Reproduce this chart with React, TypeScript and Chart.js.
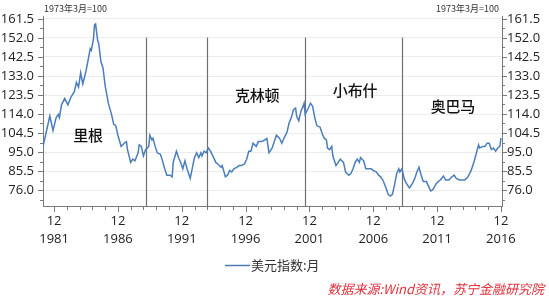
import React, { useEffect, useRef } from 'react';
import { Chart, registerables } from 'chart.js';

Chart.register(...registerables);

// ---- Data ----
const months: string[] = [
  '1981-01','1981-08','1981-11','1982-02','1982-04','1982-05','1982-07','1982-10',
  '1983-01','1983-04','1983-07','1983-09','1983-11','1984-01','1984-03','1984-06',
  '1984-10','1984-11','1985-01','1985-02','1985-03','1985-05','1985-06','1985-08',
  '1985-10','1985-12','1986-03','1986-06','1986-08','1986-10','1986-12','1987-03',
  '1987-06','1987-08','1987-09','1987-12','1988-02','1988-04','1988-07','1988-08',
  '1988-10','1988-12','1989-02','1989-05','1989-06','1989-08','1989-09','1989-11',
  '1990-01','1990-04','1990-05','1990-08','1990-10','1991-01','1991-03','1991-04',
  '1991-07','1991-09','1991-11','1992-01','1992-03','1992-05','1992-07','1992-08',
  '1992-11','1992-12','1993-02','1993-04','1993-06','1993-07','1993-09','1993-11',
  '1994-01','1994-03','1994-06','1994-08','1994-10','1995-01','1995-02','1995-05',
  '1995-07','1995-09','1995-11','1996-01','1996-04','1996-06','1996-08','1996-11',
  '1997-01','1997-03','1997-05','1997-07','1997-10','1997-12','1998-03','1998-06',
  '1998-08','1998-10','1999-01','1999-03','1999-05','1999-08','1999-10','1999-12',
  '2000-03','2000-05','2000-07','2000-09','2000-11','2000-12','2001-02','2001-04',
  '2001-06','2001-07','2001-08','2001-11','2002-01','2002-03','2002-05','2002-07',
  '2002-10','2002-12','2003-02','2003-04','2003-05','2003-07','2003-09','2003-10',
  '2004-01','2004-03','2004-05','2004-08','2004-10','2005-01','2005-03','2005-05',
  '2005-07','2005-09','2005-11','2005-12','2006-03','2006-05','2006-07','2006-10',
  '2006-12','2007-03','2007-05','2007-07','2007-09','2007-12','2008-02','2008-04',
  '2008-06','2008-08','2008-10','2008-12','2009-01','2009-03','2009-05','2009-07',
  '2009-10','2010-01','2010-03','2010-05','2010-07','2010-09','2010-11','2011-02',
  '2011-04','2011-06','2011-08','2011-11','2012-01','2012-03','2012-06','2012-08',
  '2012-11','2013-02','2013-04','2013-06','2013-09','2013-11','2014-02','2014-05',
  '2014-08','2014-11','2015-01','2015-03','2015-04','2015-07','2015-09','2015-11',
  '2016-01','2016-03','2016-05','2016-07','2016-09','2016-11','2016-12',
];

const dollarIndex: number[] = [
  96.2, 113.0, 105.8, 112.2, 113.8, 112.2, 118.6, 121.8,
  118.6, 122.6, 125.0, 129.8, 127.4, 134.6, 129.0, 135.4,
  146.6, 145.8, 151.4, 158.6, 159.0, 150.6, 149.2, 140.2,
  137.0, 128.2, 119.4, 113.8, 109.0, 108.2, 103.4, 97.8,
  99.4, 100.2, 96.2, 89.8, 91.4, 90.6, 94.6, 98.6,
  97.8, 93.0, 96.2, 97.8, 103.4, 101.0, 101.8, 97.8,
  94.6, 93.8, 92.2, 86.6, 83.4, 83.4, 82.6, 89.8,
  95.4, 92.2, 89.8, 86.6, 90.6, 86.6, 83.4, 81.8,
  89.8, 92.2, 94.6, 92.2, 94.6, 93.0, 95.4, 94.6,
  97.0, 95.4, 92.2, 89.8, 89.0, 87.4, 88.2, 82.6,
  83.4, 85.8, 85.0, 86.6, 87.4, 88.2, 88.2, 89.0,
  91.4, 95.4, 95.4, 99.4, 97.8, 100.2, 100.2, 101.0,
  101.8, 94.6, 97.0, 100.2, 103.4, 101.8, 99.4, 101.8,
  105.0, 109.8, 112.2, 116.2, 117.0, 113.0, 110.6, 115.4,
  117.8, 119.4, 113.8, 117.0, 119.4, 117.8, 112.2, 108.2,
  107.4, 104.2, 101.8, 101.0, 97.0, 96.2, 97.8, 93.0,
  88.2, 89.8, 91.4, 89.8, 85.0, 83.4, 84.2, 86.6,
  89.8, 91.4, 89.8, 92.2, 90.6, 86.6, 86.6, 86.6,
  85.8, 85.0, 83.4, 82.6, 81.0, 77.0, 73.8, 73.0,
  73.8, 78.6, 84.2, 86.6, 85.0, 86.6, 81.8, 79.4,
  77.0, 79.4, 81.8, 85.0, 87.4, 83.4, 80.2, 80.2,
  77.8, 75.5, 76.2, 79.0, 80.2, 81.0, 83.0, 81.0,
  81.0, 82.6, 83.4, 81.8, 81.0, 81.0, 81.0, 82.6,
  85.8, 90.6, 94.6, 98.6, 97.0, 97.8, 97.8, 99.4,
  99.4, 96.2, 97.0, 95.4, 97.0, 97.8, 102.0,
];

const seriesName = '美元指数:月';
const baseNote = '1973年3月=100';
const sourceNote = '数据来源:Wind资讯，苏宁金融研究院';

const yMajorTicks: number[] = [76.0, 85.5, 95.0, 104.5, 114.0, 123.5, 133.0, 142.5, 152.0, 161.5];
const xTickYears: number[] = Array.from({ length: 36 }, (_, i) => 1981 + i); // December of each year
const xLabelYears: number[] = [1981, 1986, 1991, 1996, 2001, 2006, 2011, 2016];

const presidentLineMonths: string[] = ['1989-02', '1993-12', '2001-08', '2009-03'];
const presidentLineTop = 152.2;
const presidentNames: string[] = ['里根', '克林顿', '小布什', '奥巴马'];
const presidentNameMonths: string[] = ['1984-08', '1997-11', '2005-07', '2013-03'];
const presidentNameValues: number[] = [103.2, 123.5, 125.9, 118.1];

// ---- helpers ----
const monthIndex = (s: string): number => {
  const [y, m] = s.split('-').map(Number);
  return (y - 1981) * 12 + (m - 1);
};
const decIndex = (year: number): number => (year - 1981) * 12 + 11;
const yMinorTicks = yMajorTicks.map((v) => v - 4.75);
const allYTicks = [...yMinorTicks, ...yMajorTicks].sort((a, b) => a - b);
const isMajorY = (v: number) => yMajorTicks.some((t) => Math.abs(t - v) < 1e-6);

const LATIN = "'Open Sans', 'Noto Sans CJK SC', sans-serif";
const CJK = "'Noto Sans CJK SC', 'Noto Sans', sans-serif";
const LINE_COLOR = '#4a7ebb';
const AXIS_COLOR = '#7a7a7a';

const decorPlugin = {
  id: 'decor',
  beforeDatasetsDraw(chart: any) {
    const { ctx, chartArea, scales } = chart;
    const x = scales.x;
    const y = scales.y;
    ctx.save();
    ctx.strokeStyle = '#6f6f6f';
    ctx.lineWidth = 1.2;
    presidentLineMonths.forEach((m) => {
      const px = Math.round(x.getPixelForValue(monthIndex(m))) + 0.5;
      ctx.beginPath();
      ctx.moveTo(px, y.getPixelForValue(presidentLineTop));
      ctx.lineTo(px, chartArea.bottom);
      ctx.stroke();
    });
    ctx.restore();
  },
  afterDraw(chart: any) {
    const { ctx, chartArea, scales } = chart;
    const x = scales.x;
    const y = scales.y;
    ctx.save();
    // tick marks
    ctx.strokeStyle = AXIS_COLOR;
    ctx.lineWidth = 1;
    allYTicks.forEach((v) => {
      if (v < y.min || v > y.max) return;
      const py = Math.round(y.getPixelForValue(v)) + 0.5;
      const len = isMajorY(v) ? 5 : 3;
      ctx.beginPath();
      ctx.moveTo(chartArea.left - len, py);
      ctx.lineTo(chartArea.left, py);
      ctx.moveTo(chartArea.right, py);
      ctx.lineTo(chartArea.right + len, py);
      ctx.stroke();
    });
    xTickYears.forEach((yr) => {
      const m = decIndex(yr);
      if (m < x.min - 0.01 || m > x.max + 0.01) return;
      const px = Math.round(x.getPixelForValue(m)) + 0.5;
      const len = xLabelYears.includes(yr) ? 6 : 4;
      ctx.beginPath();
      ctx.moveTo(px, chartArea.bottom);
      ctx.lineTo(px, chartArea.bottom + len);
      ctx.stroke();
    });

    // base notes
    ctx.fillStyle = '#333';
    ctx.font = `9px ${CJK}`;
    ctx.textBaseline = 'middle';
    ctx.textAlign = 'left';
    ctx.fillText(baseNote, chartArea.left + 1, 8.5);
    ctx.textAlign = 'right';
    ctx.fillText(baseNote, chartArea.right - 3, 8.5);

    // president names
    ctx.fillStyle = '#111';
    ctx.font = `500 15px ${CJK}`;
    ctx.textAlign = 'center';
    presidentNames.forEach((name, i) => {
      const px = x.getPixelForValue(monthIndex(presidentNameMonths[i]));
      const py = y.getPixelForValue(presidentNameValues[i]);
      const chars = Array.from(name);
      const spacing = 14.8;
      const start = px - ((chars.length - 1) * spacing) / 2;
      chars.forEach((c, k) => ctx.fillText(c, start + k * spacing, py));
    });

    // legend
    const ly = 265.5;
    ctx.strokeStyle = LINE_COLOR;
    ctx.lineWidth = 1.5;
    ctx.beginPath();
    ctx.moveTo(225, ly);
    ctx.lineTo(250, ly);
    ctx.stroke();
    ctx.fillStyle = '#333';
    ctx.font = `13px ${CJK}`;
    ctx.textAlign = 'left';
    ctx.fillText(seriesName, 251, ly);

    // source
    ctx.fillStyle = '#e0303c';
    ctx.font = `italic 13px ${CJK}`;
    ctx.textAlign = 'right';
    ctx.fillText(sourceNote, 544, 289);
    ctx.restore();
  },
};

const yTickOpts = (padding: number) => ({
  autoSkip: false,
  padding,
  color: '#222',
  font: { family: LATIN, size: 13 },
  callback: (v: any) => (isMajorY(Number(v)) ? Number(v).toFixed(1) : ''),
});

export default function App() {
  const canvasRef = useRef<HTMLCanvasElement | null>(null);

  useEffect(() => {
    document.body.style.margin = '0';
    document.body.style.background = '#fff';
    let chart: Chart | null = null;
    let cancelled = false;

    const build = () => {
      if (cancelled || !canvasRef.current) return;
      const data = months.map((m, i) => ({ x: monthIndex(m), y: dollarIndex[i] }));
      chart = new Chart(canvasRef.current, {
        type: 'line',
        data: {
          datasets: [
            {
              label: seriesName,
              data,
              borderColor: LINE_COLOR,
              borderWidth: 1.5,
              pointRadius: 0,
              tension: 0,
              fill: false,
            },
          ],
        },
        options: {
          animation: false,
          responsive: false,
          maintainAspectRatio: false,
          devicePixelRatio: 1,
          layout: { padding: { top: 10, left: 0, right: 0, bottom: 0 } },
          plugins: { legend: { display: false }, tooltip: { enabled: false } },
          scales: {
            x: {
              type: 'linear',
              min: 0.6,
              max: 432,
              afterBuildTicks: (s: any) => {
                s.ticks = xLabelYears.map((yr) => ({ value: decIndex(yr) }));
              },
              afterFit: (s: any) => {
                s.height = 91;
              },
              ticks: {
                autoSkip: false,
                maxRotation: 0,
                minRotation: 0,
                padding: 6,
                color: '#222',
                font: { family: LATIN, size: 13, lineHeight: 18.5 / 13 },
                callback: (v: any) => {
                  const yr = 1981 + Math.floor(Number(v) / 12);
                  return ['12', String(yr)];
                },
              },
              grid: { display: false, drawTicks: false },
              border: { display: true, color: AXIS_COLOR, width: 1 },
            },
            y: {
              position: 'left',
              min: 68,
              max: 162.6,
              afterBuildTicks: (s: any) => {
                s.ticks = allYTicks.map((v) => ({ value: v }));
              },
              afterFit: (s: any) => {
                s.width = 43;
              },
              ticks: yTickOpts(9),
              grid: {
                drawTicks: false,
                color: (c: any) => (c.tick && isMajorY(c.tick.value) ? '#ececec' : 'rgba(0,0,0,0)'),
                lineWidth: 1,
              },
              border: { display: true, color: AXIS_COLOR, width: 1 },
            },
            y2: {
              position: 'right',
              min: 68,
              max: 162.6,
              afterBuildTicks: (s: any) => {
                s.ticks = allYTicks.map((v) => ({ value: v }));
              },
              afterFit: (s: any) => {
                s.width = 47;
              },
              ticks: yTickOpts(5),
              grid: { drawOnChartArea: false, drawTicks: false },
              border: { display: true, color: AXIS_COLOR, width: 1 },
            },
          },
        },
        plugins: [decorPlugin],
      });
    };

    const fontsApi: any = (document as any).fonts;
    if (fontsApi && fontsApi.load) {
      Promise.all([
        fontsApi.load(`13px 'Open Sans'`),
        fontsApi.load(`13px 'Noto Sans CJK SC'`),
        fontsApi.load(`italic 13px 'Noto Sans CJK SC'`),
      ])
        .catch(() => undefined)
        .then(build);
    } else {
      build();
    }

    return () => {
      cancelled = true;
      if (chart) chart.destroy();
    };
  }, []);

  return (
    <div style={{ width: 549, height: 297, background: '#fff' }}>
      <canvas ref={canvasRef} width={549} height={297} style={{ width: 549, height: 297, display: 'block' }} />
    </div>
  );
}
